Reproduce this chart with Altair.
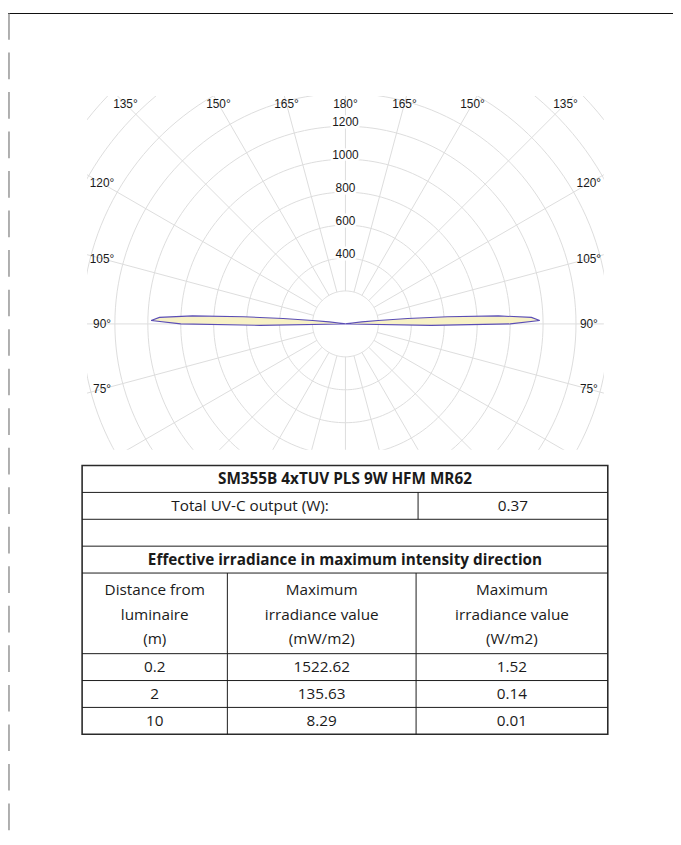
import altair as alt
import pandas as pd

# ---------------- data ----------------
# luminous intensity lobe (cd) versus gamma angle (deg), 180 = up, 90 = horizontal
LOBE_GAMMA = [85, 88, 89, 90, 91, 92, 93, 94, 95, 96, 97, 98, 99, 100]
LOBE_INTENSITY = [0, 30, 520, 1000, 1180, 1130, 930, 620, 380, 200, 100, 40, 10, 0]
PLANES = ["C180", "C0"]
PLANE_SIDE = [-1, 1]

RING_VALUES = [200, 400, 600, 800, 1000, 1200, 1400, 1600, 1800, 2000]
RING_LABELS = [400, 600, 800, 1000, 1200]
SPOKE_ANGLES = list(range(0, 360, 15))
ANGLE_LABELS = [75, 90, 105, 120, 135, 150, 165, 180]

TABLE_TITLE = "SM355B 4xTUV PLS 9W HFM MR62"
TOTAL_LABEL = "Total UV-C output (W):"
TOTAL_VALUE = "0.37"
SECTION_TITLE = "Effective irradiance in maximum intensity direction"
COLUMN_HEADERS = [
    "Distance from\nluminaire\n(m)",
    "Maximum\nirradiance value\n(mW/m2)",
    "Maximum\nirradiance value\n(W/m2)",
]
DISTANCES = ["0.2", "2", "10"]
IRRADIANCE_MW = ["1522.62", "135.63", "8.29"]
IRRADIANCE_W = ["1.52", "0.14", "0.01"]

# ---------------- layout ----------------
W, H = 523, 358
X_DOMAIN = [-1569, 1569]
Y_DOMAIN = [-764, 1384]
LABEL_HALF_W = 1478
LABEL_TOP = 1336
GRID = "#dcdcdc"
FONT_P = "Liberation Sans"
FONT_T = "Open Sans"
FS_P = 12
FS_T = 15.5
LINE_H = 25
TXT = "#1a1a1a"

TABLE_W = 532
TABLE_H = 272
COL_EDGES = [0, 147, 338, 532]
TOTAL_SPLIT = 340
ROW_EDGES = [0, 27.2, 54.4, 81.6, 108.8, 190.4, 217.6, 244.8, 272]


def xs():
    return alt.Scale(domain=X_DOMAIN, nice=False, zero=False)


def ys():
    return alt.Scale(domain=Y_DOMAIN, nice=False, zero=False)


def txs():
    return alt.Scale(domain=[0, TABLE_W], range=[-5, TABLE_W - 5], nice=False, zero=False)


def tys():
    return alt.Scale(domain=[0, TABLE_H], range=[374, 374 + TABLE_H], nice=False, zero=False)


# ---------------- polar grid ----------------
rings = (
    alt.Chart(pd.DataFrame({"ring": RING_VALUES}))
    .transform_calculate(a="sequence(0, 361, 2)")
    .transform_flatten(["a"])
    .transform_calculate(
        px="datum.ring * sin(datum.a * PI / 180)",
        py="datum.ring * cos(datum.a * PI / 180)",
    )
    .mark_line(stroke=GRID, strokeWidth=1, clip=True)
    .encode(
        x=alt.X("px:Q", scale=xs(), axis=None),
        y=alt.Y("py:Q", scale=ys(), axis=None),
        detail="ring:N",
        order="a:Q",
    )
)

spokes = (
    alt.Chart(pd.DataFrame({"angle": SPOKE_ANGLES}))
    .transform_calculate(
        px=f"{RING_VALUES[0]} * sin(datum.angle * PI / 180)",
        py=f"-{RING_VALUES[0]} * cos(datum.angle * PI / 180)",
        px2="2600 * sin(datum.angle * PI / 180)",
        py2="-2600 * cos(datum.angle * PI / 180)",
    )
    .mark_rule(stroke=GRID, strokeWidth=1, clip=True)
    .encode(
        x=alt.X("px:Q", scale=xs(), axis=None),
        y=alt.Y("py:Q", scale=ys(), axis=None),
        x2="px2:Q",
        y2="py2:Q",
    )
)

# ---------------- lobes ----------------
lobe_rows = []
for plane, side in zip(PLANES, PLANE_SIDE):
    for k, (g, v) in enumerate(zip(LOBE_GAMMA, LOBE_INTENSITY)):
        lobe_rows.append({"plane": plane, "side": side, "gamma": g, "intensity": v, "k": k})
lobe_df = pd.DataFrame(lobe_rows)

lobes = (
    alt.Chart(lobe_df)
    .transform_calculate(
        px="datum.side * datum.intensity * sin(datum.gamma * PI / 180)",
        py="-datum.intensity * cos(datum.gamma * PI / 180)",
    )
    .mark_line(
        fill="#F7F1C6",
        stroke="#5a4db5",
        strokeWidth=1.1,
        interpolate="linear-closed",
        clip=True,
    )
    .encode(
        x=alt.X("px:Q", scale=xs(), axis=None),
        y=alt.Y("py:Q", scale=ys(), axis=None),
        detail="plane:N",
        order="k:Q",
    )
)

# ---------------- labels ----------------
val_base = alt.Chart(pd.DataFrame({"value": RING_LABELS})).transform_calculate(px="0")
val_halo = val_base.mark_text(
    font=FONT_P, fontSize=FS_P, dy=-4, stroke="white", strokeWidth=5, fill="white"
).encode(
    x=alt.X("px:Q", scale=xs(), axis=None),
    y=alt.Y("value:Q", scale=ys(), axis=None),
    text="value:Q",
)
val_text = val_base.mark_text(font=FONT_P, fontSize=FS_P, dy=-4, color=TXT).encode(
    x=alt.X("px:Q", scale=xs(), axis=None),
    y=alt.Y("value:Q", scale=ys(), axis=None),
    text="value:Q",
)

ang_rows = []
for side in PLANE_SIDE:
    for a in ANGLE_LABELS:
        if a == 180 and side == 1:
            continue
        ang_rows.append({"angle": a, "side": side, "label": f"{a}°"})
ang_df = pd.DataFrame(ang_rows)

angle_labels = (
    alt.Chart(ang_df)
    .transform_calculate(g="datum.angle * PI / 180")
    .transform_calculate(
        t=f"min({LABEL_HALF_W} / max(abs(sin(datum.g)), 1e-6), cos(datum.g) < 0 ? {LABEL_TOP} / (-cos(datum.g)) : 1e9)"
    )
    .transform_calculate(
        px="datum.side * datum.t * sin(datum.g)",
        py="-datum.t * cos(datum.g)",
    )
    .mark_text(font=FONT_P, fontSize=FS_P, color=TXT)
    .encode(
        x=alt.X("px:Q", scale=xs(), axis=None),
        y=alt.Y("py:Q", scale=ys(), axis=None),
        text="label:N",
    )
)

# ---------------- table ----------------
def mid(a, b):
    return (a + b) / 2


cells_bold = pd.DataFrame(
    {
        "text": [TABLE_TITLE, SECTION_TITLE],
        "cx": [mid(0, TABLE_W), mid(0, TABLE_W)],
        "cy": [mid(ROW_EDGES[0], ROW_EDGES[1]), mid(ROW_EDGES[3], ROW_EDGES[4])],
    }
)

norm = [
    (TOTAL_LABEL, mid(0, TOTAL_SPLIT), mid(ROW_EDGES[1], ROW_EDGES[2])),
    (TOTAL_VALUE, mid(TOTAL_SPLIT, TABLE_W), mid(ROW_EDGES[1], ROW_EDGES[2])),
]
for r, vals in enumerate(zip(DISTANCES, IRRADIANCE_MW, IRRADIANCE_W)):
    for c, v in enumerate(vals):
        norm.append((v, mid(COL_EDGES[c], COL_EDGES[c + 1]), mid(ROW_EDGES[5 + r], ROW_EDGES[6 + r])))
cells_norm = pd.DataFrame(norm, columns=["text", "cx", "cy"])

cells_head = pd.DataFrame(
    {
        "text": COLUMN_HEADERS,
        "cx": [mid(COL_EDGES[c], COL_EDGES[c + 1]) for c in range(3)],
        "cy": [mid(ROW_EDGES[4], ROW_EDGES[5])] * 3,
    }
)

t_bold = (
    alt.Chart(cells_bold)
    .mark_text(font=FONT_T, fontSize=FS_T, fontWeight="bold", color=TXT, baseline="middle")
    .encode(
        x=alt.X("cx:Q", scale=txs(), axis=None),
        y=alt.Y("cy:Q", scale=tys(), axis=None),
        text="text:N",
    )
)
t_norm = (
    alt.Chart(cells_norm)
    .mark_text(font=FONT_T, fontSize=FS_T, color=TXT, baseline="middle")
    .encode(
        x=alt.X("cx:Q", scale=txs(), axis=None),
        y=alt.Y("cy:Q", scale=tys(), axis=None),
        text="text:N",
    )
)
t_head = (
    alt.Chart(cells_head)
    .mark_text(
        font=FONT_T, fontSize=FS_T, color=TXT, baseline="middle",
        lineBreak="\n", lineHeight=LINE_H, dy=-LINE_H + 1.5,
    )
    .encode(
        x=alt.X("cx:Q", scale=txs(), axis=None),
        y=alt.Y("cy:Q", scale=tys(), axis=None),
        text="text:N",
    )
)

h_lines = pd.DataFrame(
    {"x": [0] * 7, "x2": [TABLE_W] * 7, "y": ROW_EDGES[1:-1], "y2": ROW_EDGES[1:-1]}
)
v_lines = pd.DataFrame(
    {
        "x": [TOTAL_SPLIT, COL_EDGES[1], COL_EDGES[2]],
        "x2": [TOTAL_SPLIT, COL_EDGES[1], COL_EDGES[2]],
        "y": [ROW_EDGES[1], ROW_EDGES[4], ROW_EDGES[4]],
        "y2": [ROW_EDGES[2], TABLE_H, TABLE_H],
    }
)
grid_lines = pd.concat([h_lines, v_lines], ignore_index=True)

t_lines = (
    alt.Chart(grid_lines)
    .mark_rule(color="#1a1a1a", strokeWidth=1)
    .encode(
        x=alt.X("x:Q", scale=txs(), axis=None),
        y=alt.Y("y:Q", scale=tys(), axis=None),
        x2="x2:Q",
        y2="y2:Q",
    )
)
t_border = (
    alt.Chart(pd.DataFrame({"x": [0], "x2": [TABLE_W], "y": [0], "y2": [TABLE_H]}))
    .mark_rect(fillOpacity=0, stroke="#2a2a2a", strokeWidth=1.6)
    .encode(
        x=alt.X("x:Q", scale=txs(), axis=None),
        y=alt.Y("y:Q", scale=tys(), axis=None),
        x2="x2:Q",
        y2="y2:Q",
    )
)

# ---------------- page frame ----------------
frame_top = alt.Chart(pd.DataFrame({"k": [0]})).mark_rule(color="#111", strokeWidth=1.2).encode(
    x=alt.value(-80), x2=alt.value(W + 70), y=alt.value(-83.5)
)
frame_left = alt.Chart(pd.DataFrame({"k": [0]})).mark_rule(
    color="#7a7a7a", strokeWidth=1.2, strokeDash=[27, 13]
).encode(x=alt.value(-79), y=alt.value(-84), y2=alt.value(H + 395))

chart = (
    alt.layer(
        rings, spokes, lobes, val_halo, val_text, angle_labels,
        t_border, t_lines, t_bold, t_norm, t_head, frame_top, frame_left,
    )
    .resolve_scale(x="independent", y="independent")
    .properties(
        width=W,
        height=H,
        autosize=alt.AutoSizeParams(type="none"),
        padding={"left": 80, "top": 84, "right": 70, "bottom": 395},
        background="white",
    )
    .configure_view(strokeWidth=0)
)

chart.save("out.html", embed_options={"renderer": "svg", "actions": False})
